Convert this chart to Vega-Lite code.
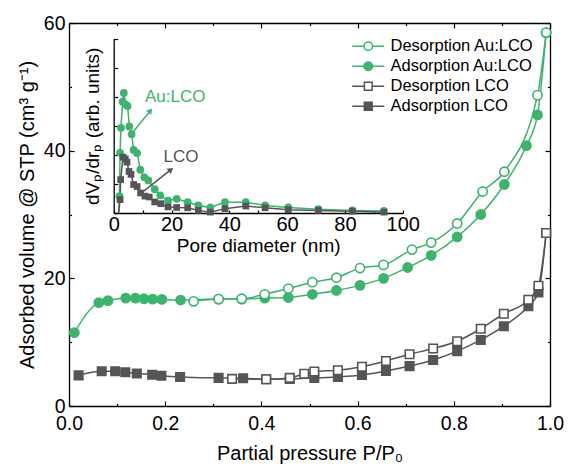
{
  "$schema": "https://vega.github.io/schema/vega-lite/v6.json",
  "width": 481,
  "height": 383,
  "autosize": {"type": "none"},
  "padding": {"left": 69, "top": 23, "right": 18, "bottom": 62},
  "config": {
    "font": "Liberation Sans",
    "view": {"stroke": null},
    "axis": {
      "domainColor": "black", "tickColor": "black", "labelColor": "black", "titleColor": "black",
      "grid": false, "domainWidth": 1.3, "tickWidth": 1.2,
      "labelFont": "Liberation Sans", "titleFont": "Liberation Sans", "titleFontWeight": "normal",
      "labelFlush": false, "labelOverlap": false
    }
  },
  "datasets": {
    "main": [
      {"s": "Adsorption Au:LCO", "P": 0.011, "V": 11.5},
      {"s": "Adsorption Au:LCO", "P": 0.062, "V": 16.2},
      {"s": "Adsorption Au:LCO", "P": 0.081, "V": 16.5},
      {"s": "Adsorption Au:LCO", "P": 0.118, "V": 16.9},
      {"s": "Adsorption Au:LCO", "P": 0.138, "V": 16.9},
      {"s": "Adsorption Au:LCO", "P": 0.156, "V": 16.8},
      {"s": "Adsorption Au:LCO", "P": 0.174, "V": 16.75},
      {"s": "Adsorption Au:LCO", "P": 0.193, "V": 16.7},
      {"s": "Adsorption Au:LCO", "P": 0.232, "V": 16.6},
      {"s": "Adsorption Au:LCO", "P": 0.311, "V": 16.75},
      {"s": "Adsorption Au:LCO", "P": 0.359, "V": 16.75},
      {"s": "Adsorption Au:LCO", "P": 0.407, "V": 16.9},
      {"s": "Adsorption Au:LCO", "P": 0.456, "V": 17.0},
      {"s": "Adsorption Au:LCO", "P": 0.506, "V": 17.5},
      {"s": "Adsorption Au:LCO", "P": 0.556, "V": 18.1},
      {"s": "Adsorption Au:LCO", "P": 0.605, "V": 18.9},
      {"s": "Adsorption Au:LCO", "P": 0.654, "V": 20.0},
      {"s": "Adsorption Au:LCO", "P": 0.704, "V": 21.7},
      {"s": "Adsorption Au:LCO", "P": 0.753, "V": 23.6},
      {"s": "Adsorption Au:LCO", "P": 0.807, "V": 26.5},
      {"s": "Adsorption Au:LCO", "P": 0.856, "V": 30.0},
      {"s": "Adsorption Au:LCO", "P": 0.905, "V": 34.7},
      {"s": "Adsorption Au:LCO", "P": 0.951, "V": 40.8},
      {"s": "Adsorption Au:LCO", "P": 0.974, "V": 45.6},
      {"s": "Adsorption Au:LCO", "P": 0.992, "V": 58.5},
      {"s": "Desorption Au:LCO", "P": 0.992, "V": 58.5},
      {"s": "Desorption Au:LCO", "P": 0.974, "V": 48.7},
      {"s": "Desorption Au:LCO", "P": 0.905, "V": 36.7},
      {"s": "Desorption Au:LCO", "P": 0.86, "V": 33.6},
      {"s": "Desorption Au:LCO", "P": 0.807, "V": 28.6},
      {"s": "Desorption Au:LCO", "P": 0.753, "V": 25.6},
      {"s": "Desorption Au:LCO", "P": 0.713, "V": 24.5},
      {"s": "Desorption Au:LCO", "P": 0.654, "V": 22.1},
      {"s": "Desorption Au:LCO", "P": 0.605, "V": 21.6},
      {"s": "Desorption Au:LCO", "P": 0.556, "V": 20.1},
      {"s": "Desorption Au:LCO", "P": 0.506, "V": 19.4},
      {"s": "Desorption Au:LCO", "P": 0.456, "V": 18.4},
      {"s": "Desorption Au:LCO", "P": 0.407, "V": 17.5},
      {"s": "Desorption Au:LCO", "P": 0.359, "V": 16.8},
      {"s": "Desorption Au:LCO", "P": 0.311, "V": 16.75},
      {"s": "Desorption Au:LCO", "P": 0.259, "V": 16.4},
      {"s": "Adsorption LCO", "P": 0.02, "V": 4.8},
      {"s": "Adsorption LCO", "P": 0.068, "V": 5.45},
      {"s": "Adsorption LCO", "P": 0.096, "V": 5.45},
      {"s": "Adsorption LCO", "P": 0.117, "V": 5.3},
      {"s": "Adsorption LCO", "P": 0.141, "V": 5.1},
      {"s": "Adsorption LCO", "P": 0.173, "V": 4.9},
      {"s": "Adsorption LCO", "P": 0.192, "V": 4.75},
      {"s": "Adsorption LCO", "P": 0.231, "V": 4.55},
      {"s": "Adsorption LCO", "P": 0.311, "V": 4.4},
      {"s": "Adsorption LCO", "P": 0.362, "V": 4.35},
      {"s": "Adsorption LCO", "P": 0.41, "V": 4.2},
      {"s": "Adsorption LCO", "P": 0.459, "V": 4.25},
      {"s": "Adsorption LCO", "P": 0.51, "V": 4.4},
      {"s": "Adsorption LCO", "P": 0.559, "V": 4.55},
      {"s": "Adsorption LCO", "P": 0.609, "V": 4.85},
      {"s": "Adsorption LCO", "P": 0.659, "V": 5.5},
      {"s": "Adsorption LCO", "P": 0.708, "V": 6.25},
      {"s": "Adsorption LCO", "P": 0.757, "V": 7.2},
      {"s": "Adsorption LCO", "P": 0.807, "V": 8.6},
      {"s": "Adsorption LCO", "P": 0.856, "V": 10.35},
      {"s": "Adsorption LCO", "P": 0.904, "V": 12.5},
      {"s": "Adsorption LCO", "P": 0.955, "V": 15.65},
      {"s": "Adsorption LCO", "P": 0.976, "V": 17.8},
      {"s": "Adsorption LCO", "P": 0.992, "V": 27.1},
      {"s": "Desorption LCO", "P": 0.992, "V": 27.1},
      {"s": "Desorption LCO", "P": 0.976, "V": 18.85},
      {"s": "Desorption LCO", "P": 0.955, "V": 16.65},
      {"s": "Desorption LCO", "P": 0.904, "V": 14.45},
      {"s": "Desorption LCO", "P": 0.856, "V": 12.1},
      {"s": "Desorption LCO", "P": 0.807, "V": 10.15},
      {"s": "Desorption LCO", "P": 0.757, "V": 9.0},
      {"s": "Desorption LCO", "P": 0.708, "V": 8.1},
      {"s": "Desorption LCO", "P": 0.659, "V": 7.05},
      {"s": "Desorption LCO", "P": 0.609, "V": 6.15},
      {"s": "Desorption LCO", "P": 0.559, "V": 5.6},
      {"s": "Desorption LCO", "P": 0.51, "V": 5.4},
      {"s": "Desorption LCO", "P": 0.489, "V": 5.05},
      {"s": "Desorption LCO", "P": 0.459, "V": 4.4},
      {"s": "Desorption LCO", "P": 0.41, "V": 4.2},
      {"s": "Desorption LCO", "P": 0.339, "V": 4.25}
    ],
    "pore": [
      {"g": "Au:LCO", "d": 1.7, "v": 0, "m": 0},
      {"g": "Au:LCO", "d": 2.0, "v": 0.58, "m": 1},
      {"g": "Au:LCO", "d": 2.2, "v": 2.07, "m": 1},
      {"g": "Au:LCO", "d": 2.5, "v": 2.93, "m": 1},
      {"g": "Au:LCO", "d": 3.1, "v": 3.83, "m": 1},
      {"g": "Au:LCO", "d": 3.5, "v": 4.13, "m": 1},
      {"g": "Au:LCO", "d": 4.2, "v": 3.73, "m": 1},
      {"g": "Au:LCO", "d": 4.8, "v": 3.68, "m": 1},
      {"g": "Au:LCO", "d": 5.4, "v": 2.98, "m": 1},
      {"g": "Au:LCO", "d": 6.2, "v": 2.71, "m": 1},
      {"g": "Au:LCO", "d": 6.9, "v": 2.17, "m": 1},
      {"g": "Au:LCO", "d": 8.1, "v": 2.06, "m": 1},
      {"g": "Au:LCO", "d": 9.2, "v": 1.49, "m": 1},
      {"g": "Au:LCO", "d": 10.6, "v": 1.23, "m": 1},
      {"g": "Au:LCO", "d": 12.0, "v": 1.12, "m": 1},
      {"g": "Au:LCO", "d": 14.2, "v": 0.82, "m": 1},
      {"g": "Au:LCO", "d": 16.1, "v": 0.61, "m": 1},
      {"g": "Au:LCO", "d": 18.8, "v": 0.43, "m": 1},
      {"g": "Au:LCO", "d": 21.8, "v": 0.49, "m": 1},
      {"g": "Au:LCO", "d": 25.6, "v": 0.37, "m": 1},
      {"g": "Au:LCO", "d": 29.3, "v": 0.26, "m": 1},
      {"g": "Au:LCO", "d": 33.4, "v": 0.19, "m": 1},
      {"g": "Au:LCO", "d": 38.5, "v": 0.37, "m": 1},
      {"g": "Au:LCO", "d": 45.7, "v": 0.37, "m": 1},
      {"g": "Au:LCO", "d": 52.4, "v": 0.26, "m": 1},
      {"g": "Au:LCO", "d": 60.4, "v": 0.19, "m": 1},
      {"g": "Au:LCO", "d": 70.8, "v": 0.13, "m": 1},
      {"g": "Au:LCO", "d": 82.6, "v": 0.09, "m": 1},
      {"g": "Au:LCO", "d": 93.5, "v": 0.07, "m": 1},
      {"g": "LCO", "d": 1.7, "v": 0, "m": 0},
      {"g": "LCO", "d": 2.2, "v": 0.46, "m": 1},
      {"g": "LCO", "d": 2.4, "v": 1.15, "m": 1},
      {"g": "LCO", "d": 3.2, "v": 1.92, "m": 1},
      {"g": "LCO", "d": 4.0, "v": 1.86, "m": 1},
      {"g": "LCO", "d": 4.6, "v": 1.75, "m": 1},
      {"g": "LCO", "d": 5.3, "v": 1.43, "m": 1},
      {"g": "LCO", "d": 6.0, "v": 1.33, "m": 1},
      {"g": "LCO", "d": 6.9, "v": 0.98, "m": 1},
      {"g": "LCO", "d": 8.1, "v": 0.91, "m": 1},
      {"g": "LCO", "d": 9.3, "v": 0.69, "m": 1},
      {"g": "LCO", "d": 10.8, "v": 0.58, "m": 1},
      {"g": "LCO", "d": 12.3, "v": 0.55, "m": 1},
      {"g": "LCO", "d": 14.2, "v": 0.38, "m": 1},
      {"g": "LCO", "d": 16.3, "v": 0.32, "m": 1},
      {"g": "LCO", "d": 18.8, "v": 0.21, "m": 1},
      {"g": "LCO", "d": 21.8, "v": 0.19, "m": 1},
      {"g": "LCO", "d": 25.6, "v": 0.18, "m": 1},
      {"g": "LCO", "d": 29.3, "v": 0.09, "m": 1},
      {"g": "LCO", "d": 33.4, "v": 0.03, "m": 1},
      {"g": "LCO", "d": 38.5, "v": 0.15, "m": 1},
      {"g": "LCO", "d": 45.7, "v": 0.24, "m": 1},
      {"g": "LCO", "d": 52.4, "v": 0.18, "m": 1},
      {"g": "LCO", "d": 60.4, "v": 0.11, "m": 1},
      {"g": "LCO", "d": 70.8, "v": 0.09, "m": 1},
      {"g": "LCO", "d": 82.6, "v": 0.06, "m": 1},
      {"g": "LCO", "d": 93.5, "v": 0.03, "m": 1}
    ],
    "notes": [
      {"g": "Au:LCO", "d": 6.6, "v": 2.78, "d2": 12.7, "v2": 3.52, "td": 21.3, "tv": 3.98},
      {"g": "LCO", "d": 9.2, "v": 0.66, "d2": 19.8, "v2": 1.49, "td": 23.3, "tv": 1.92}
    ]
  },
  "resolve": {"scale": {"x": "independent", "y": "independent", "color": "independent", "stroke": "independent", "fill": "independent", "shape": "independent", "angle": "independent"}},
  "layer": [
    {
      "data": {"name": "main"},
      "encoding": {
        "x": {
          "field": "P", "type": "quantitative",
          "scale": {"domain": [0, 1], "nice": false, "zero": false},
          "axis": {
            "orient": "bottom",
            "values": [0, 0.1, 0.2, 0.3, 0.4, 0.5, 0.6, 0.7, 0.8, 0.9, 1.0],
            "labelExpr": "round(datum.value*10)%2==0 ? format(datum.value,'.1f') : ''",
            "tickSize": {"condition": {"test": "round(datum.value*10)%2==0", "value": -5}, "value": -2.5},
            "labelFontSize": 19.5, "labelPadding": 13,
            "title": "Partial pressure P/P₀", "titleFontSize": 20, "titlePadding": 8
          }
        },
        "y": {
          "field": "V", "type": "quantitative",
          "scale": {"domain": [0, 60], "nice": false},
          "axis": {
            "orient": "left",
            "values": [0, 10, 20, 30, 40, 50, 60],
            "labelExpr": "datum.value%20==0 ? datum.label : ''",
            "tickSize": {"condition": {"test": "datum.value%20==0", "value": -5}, "value": -2.5},
            "labelFontSize": 19.5, "labelPadding": 9,
            "title": "Adsorbed volume @ STP (cm³ g⁻¹)", "titleFontSize": 20, "titlePadding": 6
          }
        },
        "stroke": {
          "field": "s", "type": "nominal",
          "scale": {"domain": ["Desorption Au:LCO", "Adsorption Au:LCO", "Desorption LCO", "Adsorption LCO"], "range": ["#3cb46e", "#3cb46e", "#555555", "#555555"]},
          "legend": {
            "title": null, "orient": "none", "legendX": 291, "legendY": 15,
            "labelFontSize": 16.5, "labelFont": "Liberation Sans", "labelColor": "black",
            "symbolSize": 100, "symbolStrokeWidth": 1.5, "labelOffset": 14, "rowPadding": 3, "padding": 0
          }
        }
      },
      "layer": [
        {"mark": {"type": "line", "interpolate": "monotone", "strokeWidth": 1.5}},
        {
          "transform": [{"filter": "false"}],
          "mark": {"type": "point", "opacity": 1, "strokeWidth": 1.5},
          "encoding": {
            "fill": {"field": "s", "type": "nominal", "scale": {"domain": ["Desorption Au:LCO", "Adsorption Au:LCO", "Desorption LCO", "Adsorption LCO"], "range": ["white", "#3cb46e", "white", "#555555"]}},
            "shape": {"field": "s", "type": "nominal", "scale": {"domain": ["Desorption Au:LCO", "Adsorption Au:LCO", "Desorption LCO", "Adsorption LCO"], "range": [
              "M-3.2,0H-0.85M0.85,0H3.2M-0.85,0A0.85,0.85,0,1,0,0.85,0A0.85,0.85,0,1,0,-0.85,0Z",
              "M-3.2,0H-0.85M0.85,0H3.2M-0.85,0A0.85,0.85,0,1,0,0.85,0A0.85,0.85,0,1,0,-0.85,0Z",
              "M-3.2,0H-0.78M0.78,0H3.2M-0.78,-0.78H0.78V0.78H-0.78Z",
              "M-3.2,0H-0.78M0.78,0H3.2M-0.78,-0.78H0.78V0.78H-0.78Z"]}}
          }
        },
        {
          "transform": [{"filter": "indexof(datum.s,'Au') >= 0"}],
          "mark": {"type": "point", "shape": "circle", "opacity": 1, "strokeWidth": 1.6, "size": 85},
          "encoding": {
            "fill": {"field": "s", "type": "nominal"}
          }
        },
        {
          "transform": [{"filter": "indexof(datum.s,'Au') < 0"}],
          "mark": {"type": "point", "shape": "square", "opacity": 1, "strokeWidth": 1.6, "size": 72},
          "encoding": {
            "fill": {"field": "s", "type": "nominal"}
          }
        }
      ]
    },
    {
      "data": {"values": [{"a": 0, "b": 0}]},
      "mark": {"type": "point", "opacity": 0},
      "encoding": {
        "x": {
          "field": "a", "type": "quantitative", "scale": {"domain": [0, 1], "nice": false, "zero": false},
          "axis": {"orient": "top", "values": [0, 0.1, 0.2, 0.3, 0.4, 0.5, 0.6, 0.7, 0.8, 0.9, 1.0], "labels": false, "title": null,
            "tickSize": {"condition": {"test": "round(datum.value*10)%2==0", "value": -5}, "value": -2.5}}
        },
        "y": {
          "field": "b", "type": "quantitative", "scale": {"domain": [0, 60], "nice": false},
          "axis": {"orient": "right", "values": [0, 10, 20, 30, 40, 50, 60], "labels": false, "title": null,
            "tickSize": {"condition": {"test": "datum.value%20==0", "value": -5}, "value": -2.5}}
        }
      }
    },
    {
      "encoding": {
        "x": {
          "field": "d", "type": "quantitative",
          "scale": {"domain": [0, 100], "range": [44.7, 333.7], "nice": false, "zero": false},
          "axis": {
            "orient": "bottom", "offset": -193,
            "values": [0, 10, 20, 30, 40, 50, 60, 70, 80, 90, 100],
            "labelExpr": "datum.value%20==0 ? datum.label : ''",
            "tickSize": -3, "labelFontSize": 20, "labelPadding": 4,
            "title": "Pore diameter (nm)", "titleFontSize": 19, "titlePadding": 2
          }
        },
        "y": {
          "field": "v", "type": "quantitative",
          "scale": {"domain": [0, 6], "range": [190, 15.6], "nice": false},
          "axis": {
            "orient": "left", "offset": -44.7,
            "values": [0, 1, 2, 3, 4, 5, 6], "labels": false, "tickSize": -4,
            "title": "dVₚ/drₚ (arb. units)", "titleFontSize": 19, "titlePadding": 11
          }
        },
        "color": {"field": "g", "type": "nominal", "scale": {"domain": ["Au:LCO", "LCO"], "range": ["#3cb46e", "#555555"]}, "legend": null}
      },
      "layer": [
        {"data": {"name": "pore"}, "mark": {"type": "line", "strokeWidth": 1.5}},
        {
          "data": {"name": "pore"},
          "transform": [{"filter": "datum.m == 1"}],
          "mark": {"type": "point", "filled": true, "opacity": 1},
          "encoding": {
            "shape": {"field": "g", "type": "nominal", "scale": {"domain": ["Au:LCO", "LCO"], "range": ["circle", "square"]}, "legend": null},
            "size": {"field": "g", "type": "nominal", "scale": {"domain": ["Au:LCO", "LCO"], "range": [60, 45]}, "legend": null}
          }
        },
        {
          "data": {"name": "notes"},
          "mark": {"type": "rule", "strokeWidth": 1.5},
          "encoding": {"x2": {"field": "d2"}, "y2": {"field": "v2"}}
        },
        {
          "data": {"name": "notes"},
          "mark": {"type": "point", "shape": "triangle-up", "filled": true, "opacity": 1, "size": 45},
          "encoding": {
            "x": {"field": "d2", "type": "quantitative"},
            "y": {"field": "v2", "type": "quantitative"},
            "angle": {"field": "g", "type": "nominal", "scale": {"domain": ["Au:LCO", "LCO"], "range": [39, 52]}, "legend": null}
          }
        },
        {
          "data": {"name": "notes"},
          "mark": {"type": "text", "fontSize": 17, "font": "Liberation Sans"},
          "encoding": {
            "x": {"field": "td", "type": "quantitative"},
            "y": {"field": "tv", "type": "quantitative"},
            "text": {"field": "g"}
          }
        }
      ]
    }
  ]
}
